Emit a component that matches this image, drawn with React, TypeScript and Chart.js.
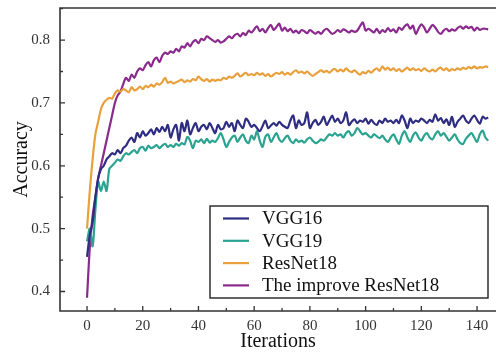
import React, { useEffect, useRef } from "react";
import { Chart, registerables } from "chart.js";

Chart.register(...registerables);

const iterations: number[] = Array.from({ length: 145 }, (_, i) => i);

const vgg16: number[] = [
  0.455, 0.49, 0.51, 0.55, 0.58, 0.595, 0.6, 0.61, 0.615, 0.62, 0.618, 0.625, 0.62, 0.628, 0.632, 0.64, 0.645, 0.638, 0.652, 0.645,
  0.655, 0.648, 0.652, 0.658, 0.65, 0.66, 0.654, 0.662, 0.655, 0.665, 0.645, 0.658, 0.665, 0.64, 0.668, 0.655, 0.672, 0.65, 0.66, 0.668,
  0.655, 0.662, 0.665, 0.658, 0.668, 0.66, 0.652, 0.665, 0.658, 0.66, 0.67, 0.662, 0.668, 0.655, 0.672, 0.665, 0.66, 0.675, 0.67, 0.662,
  0.665, 0.66, 0.655, 0.663, 0.672, 0.66, 0.664, 0.668, 0.664, 0.67, 0.665, 0.662, 0.66, 0.672, 0.68, 0.66, 0.672, 0.665, 0.668, 0.685,
  0.66, 0.668, 0.673, 0.665, 0.67, 0.678, 0.665, 0.672, 0.68, 0.67, 0.675, 0.668, 0.672, 0.685, 0.665, 0.67, 0.674, 0.668, 0.672, 0.67,
  0.675, 0.667, 0.673, 0.668, 0.665, 0.672, 0.668, 0.675, 0.67, 0.672, 0.668, 0.673, 0.668, 0.68, 0.672, 0.66, 0.675, 0.668, 0.672, 0.67,
  0.675, 0.672, 0.668, 0.673, 0.67, 0.682, 0.672, 0.676, 0.668, 0.674, 0.665, 0.678, 0.662, 0.67, 0.675, 0.68, 0.672, 0.668, 0.675, 0.68,
  0.673, 0.667, 0.678, 0.675, 0.677,
];

const vgg19: number[] = [
  0.48, 0.5, 0.472, 0.53, 0.575, 0.56, 0.575, 0.56, 0.595, 0.6, 0.605, 0.61, 0.608, 0.615, 0.62, 0.618, 0.622, 0.625, 0.62, 0.628,
  0.63, 0.624, 0.632, 0.628, 0.63, 0.633, 0.628, 0.632, 0.635, 0.63, 0.633, 0.63, 0.635, 0.632, 0.636, 0.634, 0.646, 0.64, 0.628, 0.64,
  0.638, 0.642, 0.636, 0.643, 0.637, 0.64, 0.638, 0.644, 0.652, 0.642, 0.63, 0.638, 0.645, 0.648, 0.638, 0.645, 0.65, 0.64, 0.636, 0.648,
  0.642, 0.655, 0.64, 0.63, 0.646, 0.65, 0.638, 0.645, 0.652, 0.642, 0.638, 0.644, 0.648, 0.64, 0.636, 0.642, 0.638, 0.64, 0.637, 0.642,
  0.645, 0.64, 0.636, 0.638, 0.642, 0.64, 0.645, 0.65, 0.648, 0.652, 0.648, 0.65, 0.645, 0.652, 0.655, 0.648, 0.652, 0.66, 0.655, 0.65,
  0.652, 0.648, 0.645, 0.65, 0.647, 0.644, 0.648, 0.642, 0.638, 0.645, 0.65, 0.642, 0.635, 0.648, 0.655, 0.645, 0.638, 0.648, 0.653, 0.645,
  0.64, 0.648, 0.652, 0.645, 0.642, 0.65, 0.655, 0.648, 0.652, 0.646, 0.64, 0.645, 0.65, 0.642, 0.636, 0.635, 0.643, 0.648, 0.652, 0.645,
  0.638, 0.65, 0.656, 0.645, 0.64,
];

const resnet18: number[] = [
  0.5, 0.56, 0.61, 0.65, 0.67, 0.69, 0.7, 0.705, 0.708, 0.707, 0.715, 0.72, 0.718, 0.722, 0.72, 0.717, 0.725, 0.72, 0.722, 0.726,
  0.722, 0.727, 0.725, 0.729, 0.726, 0.731, 0.729, 0.733, 0.74, 0.732, 0.734, 0.731, 0.733, 0.735, 0.737, 0.733, 0.736, 0.734, 0.738, 0.736,
  0.742, 0.738, 0.735, 0.738, 0.734, 0.737, 0.735, 0.737, 0.736, 0.74, 0.738, 0.742, 0.74, 0.743, 0.747, 0.742, 0.745, 0.748, 0.744, 0.746,
  0.744, 0.748, 0.745, 0.747, 0.743, 0.746, 0.742, 0.745, 0.748, 0.746, 0.749, 0.745, 0.748, 0.745, 0.749, 0.752, 0.748, 0.75, 0.747, 0.75,
  0.746, 0.743, 0.746, 0.749, 0.752, 0.749, 0.751, 0.748, 0.752, 0.754, 0.75, 0.753, 0.75, 0.755, 0.751, 0.749, 0.752, 0.748, 0.745, 0.749,
  0.747, 0.751, 0.748, 0.752, 0.755, 0.751, 0.758, 0.753, 0.756, 0.752, 0.755, 0.751, 0.754, 0.75, 0.753, 0.756, 0.752, 0.755, 0.752, 0.754,
  0.751, 0.755, 0.752, 0.75, 0.753, 0.75, 0.754, 0.756, 0.752, 0.755, 0.751, 0.754, 0.752, 0.755, 0.753, 0.756, 0.754, 0.757, 0.755, 0.758,
  0.755, 0.757, 0.756, 0.758, 0.757,
];

const improvedResnet18: number[] = [
  0.39, 0.47, 0.52, 0.55, 0.58, 0.6, 0.62, 0.64, 0.66, 0.68, 0.7, 0.712, 0.718, 0.73, 0.74, 0.735, 0.745, 0.74, 0.75, 0.755,
  0.752, 0.76, 0.765, 0.758, 0.768, 0.772, 0.765, 0.775, 0.78, 0.778, 0.782, 0.78, 0.786, 0.782, 0.79, 0.788, 0.795, 0.79, 0.797, 0.8,
  0.795, 0.802, 0.8, 0.806, 0.803, 0.8, 0.797, 0.8, 0.796, 0.798, 0.802, 0.806, 0.803, 0.808, 0.81, 0.806, 0.811, 0.808, 0.815, 0.812,
  0.817, 0.822, 0.814, 0.818, 0.812, 0.819, 0.824, 0.816, 0.821, 0.826, 0.815, 0.82, 0.814, 0.818, 0.812, 0.815, 0.811, 0.816, 0.814, 0.811,
  0.816, 0.813, 0.81, 0.813, 0.81, 0.815, 0.818, 0.814, 0.81, 0.812, 0.816, 0.813, 0.817, 0.815, 0.812, 0.815, 0.813, 0.815, 0.822, 0.828,
  0.815, 0.818, 0.815, 0.812, 0.818, 0.811, 0.816, 0.813, 0.819, 0.814, 0.817, 0.812, 0.82, 0.816, 0.822, 0.825, 0.818, 0.823, 0.81, 0.818,
  0.825, 0.82, 0.812, 0.818, 0.824, 0.82, 0.813, 0.81, 0.815, 0.818, 0.814, 0.817, 0.815, 0.819, 0.822, 0.818, 0.822, 0.819, 0.821, 0.815,
  0.82, 0.816, 0.818, 0.818, 0.817,
];

const seriesLabels: string[] = ["VGG16", "VGG19", "ResNet18", "The improve ResNet18"];
const seriesColors: string[] = ["#2e2d82", "#2aa390", "#e8a03c", "#8a2a8c"];
const xTickValues: number[] = [0, 20, 40, 60, 80, 100, 120, 140];
const yTickValues: number[] = [0.4, 0.5, 0.6, 0.7, 0.8];

const FONT = "'Liberation Serif', 'DejaVu Serif', serif";
const AXIS_COLOR = "#333333";

const framePlugin = {
  id: "frameAndTicks",
  afterDraw(chart: any) {
    const { ctx, chartArea } = chart;
    const xs = chart.scales.x;
    const ys = chart.scales.y;
    ctx.save();
    ctx.strokeStyle = AXIS_COLOR;
    ctx.lineWidth = 1.6;
    ctx.beginPath();
    ctx.moveTo(chartArea.right, chartArea.top);
    ctx.lineTo(chartArea.left, chartArea.top);
    ctx.lineTo(chartArea.left, chartArea.bottom);
    ctx.lineTo(chartArea.right, chartArea.bottom);
    ctx.stroke();
    ctx.lineWidth = 1.3;
    ctx.beginPath();
    for (let v = -10; v <= 150; v += 10) {
      if (v < xs.min || v > xs.max) continue;
      const px = xs.getPixelForValue(v);
      const len = v % 20 === 0 ? 5 : 3;
      ctx.moveTo(px, chartArea.bottom);
      ctx.lineTo(px, chartArea.bottom - len);
    }
    for (let k = 7; k <= 17; k++) {
      const v = k * 0.05;
      if (v < ys.min || v > ys.max) continue;
      const py = ys.getPixelForValue(v);
      const len = k % 2 === 0 ? 5 : 3;
      ctx.moveTo(chartArea.left, py);
      ctx.lineTo(chartArea.left + len, py);
    }
    ctx.stroke();

    // legend
    const bx = 210, by = 206, bw = 278, bh = 92;
    ctx.fillStyle = "#ffffff";
    ctx.fillRect(bx, by, bw, bh);
    ctx.strokeStyle = "#222222";
    ctx.lineWidth = 1.4;
    ctx.strokeRect(bx, by, bw, bh);
    ctx.font = `19px ${FONT}`;
    ctx.textBaseline = "middle";
    ctx.textAlign = "left";
    chart.data.datasets.forEach((ds: any, i: number) => {
      const y = by + 12.5 + i * 22.3;
      ctx.strokeStyle = ds.borderColor;
      ctx.lineWidth = 2.2;
      ctx.beginPath();
      ctx.moveTo(bx + 13, y);
      ctx.lineTo(bx + 39, y);
      ctx.stroke();
      ctx.fillStyle = "#111111";
      ctx.fillText(ds.label, bx + 52, y + 1);
    });
    ctx.restore();
  },
};

export default function App() {
  const canvasRef = useRef<HTMLCanvasElement | null>(null);

  useEffect(() => {
    if (!canvasRef.current) return;
    const datasets = [vgg16, vgg19, resnet18, improvedResnet18].map((vals, i) => ({
      label: seriesLabels[i],
      data: vals.map((v, j) => ({ x: iterations[j], y: v })),
      borderColor: seriesColors[i],
      backgroundColor: seriesColors[i],
      borderWidth: 2.2,
      pointRadius: 0,
      tension: 0.3,
      fill: false,
    }));
    const chart = new Chart(canvasRef.current, {
      type: "line",
      data: { datasets },
      options: {
        animation: false,
        responsive: true,
        maintainAspectRatio: false,
        layout: { padding: { top: 8, right: 0, left: 0, bottom: 0 } },
        plugins: { legend: { display: false }, tooltip: { enabled: false } },
        scales: {
          x: {
            type: "linear",
            min: -9.7,
            max: 146.8,
            afterBuildTicks: (scale: any) => {
              scale.ticks = xTickValues.map((v) => ({ value: v }));
            },
            afterFit: (scale: any) => {
              scale.height = 43;
              scale.paddingLeft = 0;
              scale.paddingRight = 0;
            },
            grid: { display: false, drawTicks: false },
            border: { display: false },
            ticks: {
              padding: 6,
              color: AXIS_COLOR,
              font: { family: FONT, size: 15 },
              maxRotation: 0,
              autoSkip: false,
            },
            title: {
              display: true,
              text: "Iterations",
              color: "#111111",
              font: { family: FONT, size: 20 },
              padding: { top: 0, bottom: 0 },
            },
          },
          y: {
            type: "linear",
            min: 0.369,
            max: 0.851,
            afterBuildTicks: (scale: any) => {
              scale.ticks = yTickValues.map((v) => ({ value: v }));
            },
            afterFit: (scale: any) => {
              scale.width = 60;
              scale.paddingTop = 0;
              scale.paddingBottom = 0;
            },
            grid: { display: false, drawTicks: false },
            border: { display: false },
            ticks: {
              padding: 10,
              color: AXIS_COLOR,
              font: { family: FONT, size: 15 },
              callback: (v: any) => Number(v).toFixed(1),
            },
            title: {
              display: true,
              text: "Accuracy",
              color: "#111111",
              font: { family: FONT, size: 20 },
              padding: { top: 10, bottom: 0 },
            },
          },
        },
      },
      plugins: [framePlugin],
    });
    return () => chart.destroy();
  }, []);

  return (
    <div style={{ position: "fixed", left: 0, top: 0, width: 496, height: 354, background: "#ffffff" }}>
      <canvas ref={canvasRef} />
    </div>
  );
}
